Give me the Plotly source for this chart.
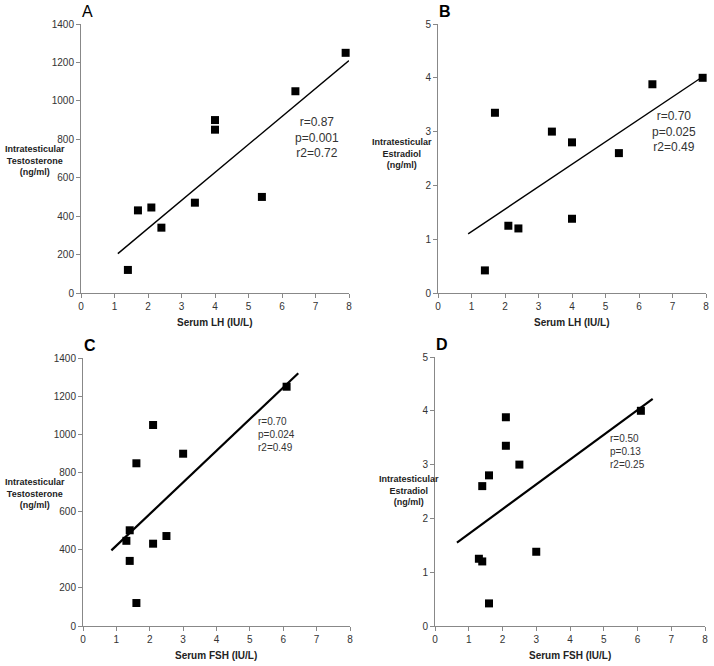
import plotly.graph_objects as go

W, H = 714, 666

# Panel A: Serum LH vs Intratesticular Testosterone
lh_A = [1.4, 1.7, 2.1, 2.4, 3.4, 4.0, 4.0, 5.4, 6.4, 7.9]
t_A = [120, 430, 445, 340, 470, 900, 850, 500, 1050, 1250]
fit_A_x = [1.1, 8.0]
fit_A_y = [205, 1210]

# Panel B: Serum LH vs Intratesticular Estradiol
lh_B = [1.4, 1.7, 2.1, 2.4, 3.4, 4.0, 4.0, 5.4, 6.4, 7.9]
e_B = [0.42, 3.35, 1.25, 1.2, 3.0, 2.8, 1.38, 2.6, 3.88, 4.0]
fit_B_x = [0.9, 7.9]
fit_B_y = [1.1, 4.02]

# Panel C: Serum FSH vs Intratesticular Testosterone
fsh_C = [1.3, 1.4, 1.4, 1.6, 1.6, 2.1, 2.1, 2.5, 3.0, 6.1]
t_C = [445, 500, 340, 850, 120, 1050, 430, 470, 900, 1250]
fit_C_x = [0.85, 6.45]
fit_C_y = [395, 1320]

# Panel D: Serum FSH vs Intratesticular Estradiol
fsh_D = [1.3, 1.4, 1.4, 1.6, 1.6, 2.1, 2.1, 2.5, 3.0, 6.1]
e_D = [1.25, 1.2, 2.6, 2.8, 0.42, 3.88, 3.35, 3.0, 1.38, 4.0]
fit_D_x = [0.65, 6.45]
fit_D_y = [1.55, 4.22]

x_ticks = [0, 1, 2, 3, 4, 5, 6, 7, 8]
t_ticks = [0, 200, 400, 600, 800, 1000, 1200, 1400]
e_ticks = [0, 1, 2, 3, 4, 5]

FONT = "Liberation Sans, Arial, Helvetica, sans-serif"

# pixel boxes: (x0, x1, ytop, ybottom)
boxes = {
    "A": (81, 349, 24, 293),
    "B": (438, 706, 24, 293),
    "C": (83, 350, 358, 626),
    "D": (435, 705, 357, 626),
}

fig = go.Figure()

panels = [
    ("A", lh_A, t_A, fit_A_x, fit_A_y, 1.4, t_ticks, 1400, "Serum LH (IU/L)",
     "Intratesticular<br>Testosterone<br>(ng/ml)", ["r=0.87", "p=0.001", "r2=0.72"]),
    ("B", lh_B, e_B, fit_B_x, fit_B_y, 1.4, e_ticks, 5, "Serum LH (IU/L)",
     "Intratesticular<br>Estradiol<br>(ng/ml)", ["r=0.70", "p=0.025", "r2=0.49"]),
    ("C", fsh_C, t_C, fit_C_x, fit_C_y, 2.2, t_ticks, 1400, "Serum FSH (IU/L)",
     "Intratesticular<br>Testosterone<br>(ng/ml)", ["r=0.70", "p=0.024", "r2=0.49"]),
    ("D", fsh_D, e_D, fit_D_x, fit_D_y, 2.2, e_ticks, 5, "Serum FSH (IU/L)",
     "Intratesticular<br>Estradiol<br>(ng/ml)", ["r=0.50", "p=0.13", "r2=0.25"]),
]

annotations = []
for i, (name, xs, ys, fx, fy, lw, yt, ymax, xtitle, ytitle, stats) in enumerate(panels):
    idx = "" if i == 0 else str(i + 1)
    xa, ya = "x" + idx, "y" + idx
    x0, x1, yt0, yb0 = boxes[name]
    fig.add_trace(go.Scatter(x=fx, y=fy, mode="lines", xaxis=xa, yaxis=ya,
                             line=dict(color="black", width=lw), showlegend=False,
                             cliponaxis=False, hoverinfo="skip"))
    fig.add_trace(go.Scatter(x=xs, y=ys, mode="markers", xaxis=xa, yaxis=ya,
                             marker=dict(symbol="square", size=8, color="black"),
                             showlegend=False, cliponaxis=False))
    axcommon = dict(showgrid=False, zeroline=False, showline=True, linecolor="#888888",
                    linewidth=1, ticks="outside", ticklen=4, tickcolor="#888888",
                    automargin=False,
                    tickfont=dict(family=FONT, size=10, color="#333333"))
    fig.layout["xaxis" + idx] = dict(axcommon, domain=[x0 / W, x1 / W], range=[0, 8],
                                     tickvals=x_ticks, anchor=ya)
    fig.layout["yaxis" + idx] = dict(axcommon, domain=[1 - yb0 / H, 1 - yt0 / H],
                                     range=[0, ymax], tickvals=yt, anchor=xa)
    # x title
    annotations.append(dict(text="<b>" + xtitle + "</b>", xref="paper", yref="paper",
                            x=(x0 + x1) / 2 / W, y=1 - (yb0 + 29) / H, showarrow=False,
                            xanchor="center", yanchor="middle",
                            font=dict(family=FONT, size=10, color="#222222")))
    # panel letter
    letter = name if name == "A" else "<b>" + name + "</b>"
    annotations.append(dict(text=letter, xref="paper", yref="paper",
                            x=(x0 - 1) / W, y=1 - (yt0 - 13) / H, showarrow=False,
                            xanchor="left", yanchor="middle",
                            font=dict(family=FONT, size=16, color="black")))
    # stats
    if name in ("A", "B"):
        sx = 7.05
        sy = 807 if name == "A" else 3.01
        annotations.append(dict(text="<br>".join(stats), x=sx, y=sy, xref=xa, yref=ya,
                                showarrow=False, xanchor="center", yanchor="middle",
                                align="center",
                                font=dict(family=FONT, size=12, color="#333333")))
    else:
        sx = 5.18 if name == "C" else 5.12
        sy = 998 if name == "C" else 3.25
        annotations.append(dict(text="<br>".join(stats), x=sx, y=sy, xref=xa, yref=ya,
                                showarrow=False, xanchor="left", yanchor="middle",
                                align="left",
                                font=dict(family=FONT, size=10, color="#333333")))

# y titles (paper coords)
ytitle_pos = {"A": (35, 160), "B": (402, 153), "C": (35, 493), "D": (409, 490)}
for i, p in enumerate(panels):
    name = p[0]
    px, py = ytitle_pos[name]
    annotations.append(dict(text="<b>" + p[9] + "</b>", xref="paper", yref="paper",
                            x=px / W, y=1 - py / H, showarrow=False, align="center",
                            xanchor="center", yanchor="middle",
                            font=dict(family=FONT, size=9, color="#222222")))

fig.update_layout(width=W, height=H, margin=dict(l=0, r=0, t=0, b=0),
                  paper_bgcolor="white", plot_bgcolor="white",
                  annotations=annotations, font=dict(family=FONT))

fig.write_html("out.html", config={"displayModeBar": False},
               post_script="document.body.style.margin='0';"
                           "document.body.style.overflow='hidden';")
